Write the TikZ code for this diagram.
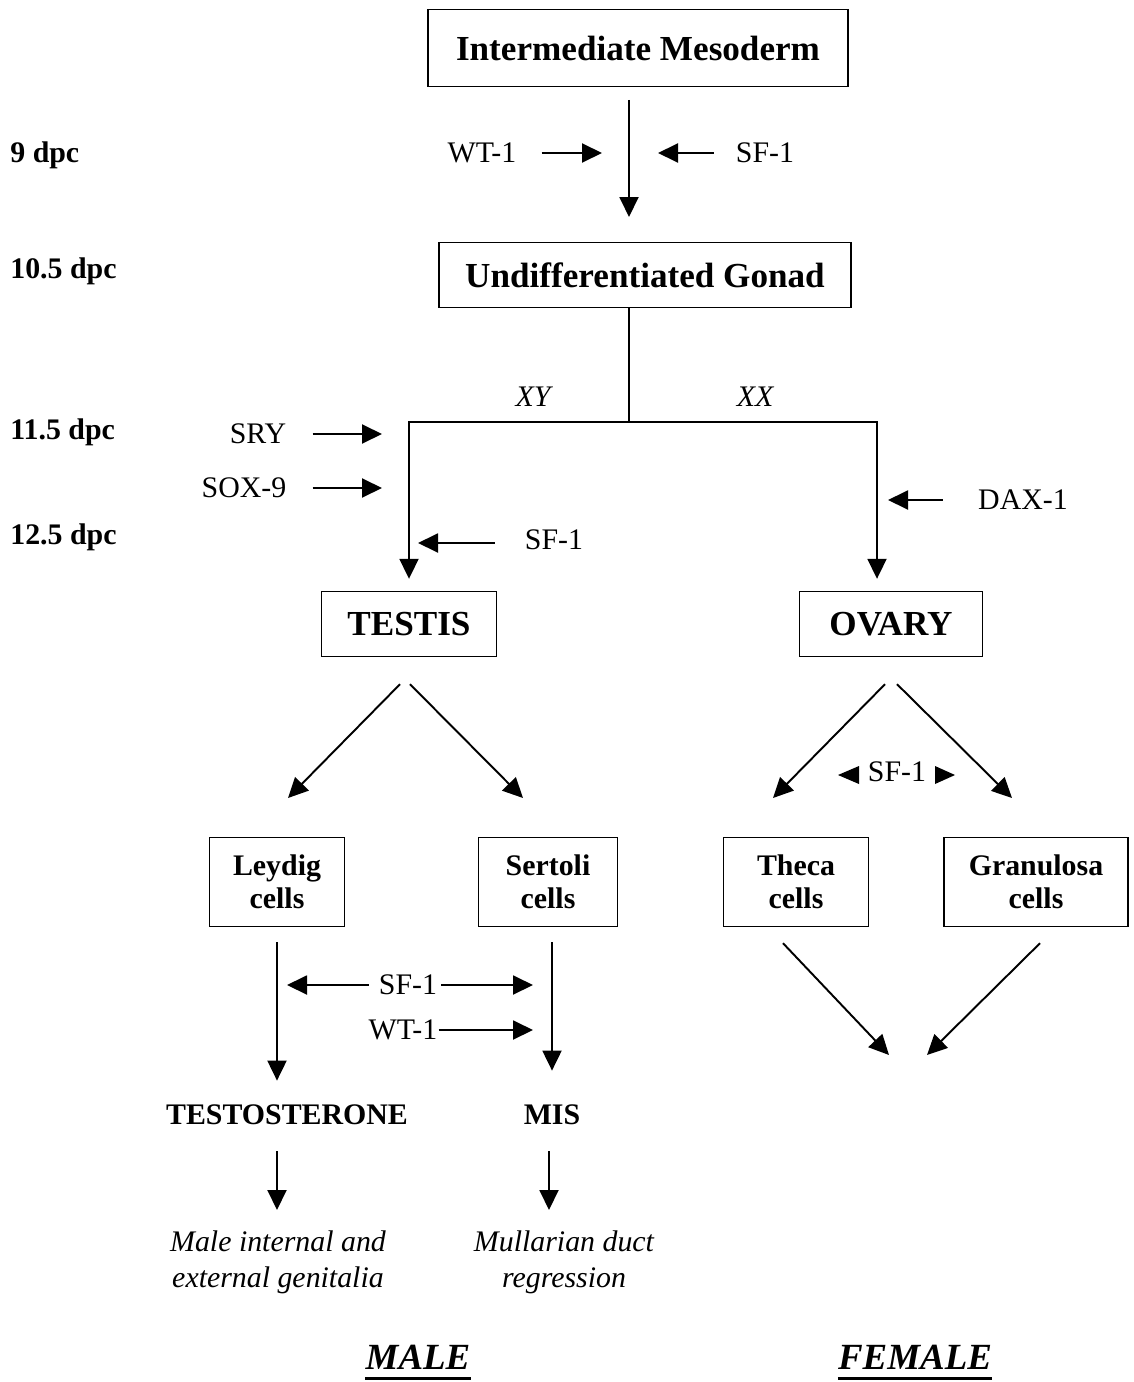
\documentclass[tikz,border=0pt]{standalone}
\usepackage{fontspec}
\setmainfont{Liberation Serif}
\usetikzlibrary{positioning}
\usetikzlibrary{arrows.meta}
\tikzset{
  arr/.style={line width=1.1pt, -{Triangle[length=0.4cm,width=0.38cm]}},
  stage/.style={draw, line width=0.8pt, font=\fontsize{20}{24}\selectfont\bfseries, minimum height=1.3cm},
  cellbox/.style={draw, line width=0.8pt, align=center, font=\fontsize{17}{19}\selectfont\bfseries, minimum height=1.78cm},
  factor/.style={inner sep=0pt, font=\fontsize{17}{20}\selectfont},
  dpc/.style={anchor=west, inner sep=0pt, font=\fontsize{17}{20}\selectfont\bfseries},
  result/.style={inner sep=0pt, font=\fontsize{17}{20}\selectfont\bfseries},
  effect/.style={inner sep=0pt, align=center, font=\fontsize{17}{20.4}\selectfont\itshape},
  sexlabel/.style={inner sep=0pt, anchor=base, font=\fontsize{21}{24}\selectfont\bfseries\itshape}
}

\begin{document}
\begin{tikzpicture}[x=0.02cm, y=-0.02cm]
\useasboundingbox (0,0) rectangle (1133,1382);

% ---------------- Time scale ----------------
\node[dpc] (d9)   at (10,155) {9 dpc};
\node[dpc] (d105) at (10,271) {10.5 dpc};
\node[dpc] (d115) at (10,432) {11.5 dpc};
\node[dpc] (d125) at (10,537) {12.5 dpc};

% ---------------- Mesoderm to gonad ----------------
\node[stage, minimum width=8.4cm, minimum height=1.54cm] (meso) at (638,48) {Intermediate Mesoderm};
\node[stage, minimum width=8.24cm] (gonad) at (645,275) {Undifferentiated Gonad};

\coordinate (m1) at (629,100);
\coordinate (m2) at (629,217);
\draw[arr] (m1) -- (m2);

\node[factor] (wt1a) at (482,153) {WT-1};
\node[factor] (sf1a) at (765,153) {SF-1};
\coordinate (wt1tip) at (602,153);
\coordinate (sf1tip) at (658,153);
\draw[arr, shorten <=0.5cm] (wt1a.east) -- (wt1tip);
\draw[arr, shorten <=0.44cm] (sf1a.west) -- (sf1tip);

% ---------------- Split XY / XX ----------------
\node[stage, minimum width=3.5cm]  (testis) at (409,624) {TESTIS};
\node[stage, minimum width=3.66cm] (ovary)  at (891,624) {OVARY};

\coordinate (split) at (629,422);
\coordinate (xyc) at (409,422);
\coordinate (xxc) at (877,422);
\draw[line width=1.1pt] (gonad.south -| split) -- (split);
\draw[arr, shorten >=0.24cm] (split) -- (xyc) -- (testis.north);
\draw[arr, shorten >=0.24cm] (split) -- (xxc) -- (xxc |- ovary.north);

\node[factor, font=\fontsize{17}{20}\selectfont\itshape] (xy) at (533,397) {XY};
\node[factor, font=\fontsize{17}{20}\selectfont\itshape] (xx) at (755,397) {XX};

% factors on the branches
\node[factor] (sry)  at (258,434) {SRY};
\node[factor] (sox9) at (244,488) {SOX-9};
\node[factor] (sf1b) at (554,540) {SF-1};
\node[factor] (dax1) at (1023,500) {DAX-1};
\coordinate (srytip) at (382,434);
\coordinate (soxtip) at (382,488);
\coordinate (sf1btip) at (418,543);
\coordinate (daxtip) at (888,500);
\draw[arr, shorten <=0.52cm] (sry.east) -- (srytip);
\draw[arr, shorten <=0.52cm] (sox9.east) -- (soxtip);
\draw[arr, shorten <=0.6cm] (sf1b.west |- sf1btip) -- (sf1btip);
\draw[arr, shorten <=0.7cm] (dax1.west) -- (daxtip);

% ---------------- Cell types ----------------
\node[cellbox, minimum width=2.7cm]  (leydig)    at (277,882)  {Leydig\\cells};
\node[cellbox, minimum width=2.78cm] (sertoli)   at (548,882)  {Sertoli\\cells};
\node[cellbox, minimum width=2.9cm]  (theca)     at (796,882)  {Theca\\cells};
\node[cellbox, minimum width=3.68cm] (granulosa) at (1036,882) {Granulosa\\cells};

\coordinate (ltip) at (288,798);
\coordinate (stip) at (523,798);
\coordinate (ttip) at (773,798);
\coordinate (gtip) at (1012,798);
\draw[arr] ([xshift=-0.18cm,yshift=-0.54cm]testis.south) -- (ltip);
\draw[arr] ([xshift=0.02cm,yshift=-0.54cm]testis.south) -- (stip);
\draw[arr] ([xshift=-0.12cm,yshift=-0.54cm]ovary.south) -- (ttip);
\draw[arr] ([xshift=0.12cm,yshift=-0.54cm]ovary.south) -- (gtip);

% SF-1 between the ovary arrows
\node[factor] (sf1o) at (897,772) {SF-1};
\fill (838,775) -- (859,766) -- (859,784) -- cycle;
\fill (955,775) -- (935,766) -- (935,784) -- cycle;

% ---------------- Male products ----------------
\node[result] (testo) at (287,1115) {TESTOSTERONE};
\node[result] (mis)   at (552,1115) {MIS};

\draw[arr, shorten <=0.3cm, shorten >=0.48cm] (leydig.south) -- (leydig.south |- testo.north);
\draw[arr, shorten <=0.3cm, shorten >=0.68cm] (sertoli.south -| mis) -- (mis.north);

\node[factor] (sf1c) at (408,985) {SF-1};
\node[factor] (wt1c) at (403,1030) {WT-1};
\coordinate (sfl) at (287,985);
\coordinate (sfr) at (533,985);
\coordinate (wtr) at (533,1030);
\draw[arr, shorten <=0.2cm] (sf1c.west) -- (sfl);
\draw[arr, shorten <=0.08cm] (sf1c.east) -- (sfr);
\draw[arr, shorten <=0.02cm] (wt1c.east) -- (wtr);

\node[effect] (genit) at (278,1262) {Male internal and\\external genitalia};
\node[effect] (regr)  at (564,1262) {Mullarian duct\\regression};
\coordinate (gentip) at (277,1210);
\coordinate (regtip) at (549,1210);
\draw[arr, shorten <=0.52cm] (testo.south -| gentip) -- (gentip);
\draw[arr, shorten <=0.52cm] (mis.south -| regtip) -- (regtip);

% ---------------- Female products ----------------
\coordinate (fl) at (889,1055);
\coordinate (fr) at (927,1055);
\draw[arr] ([xshift=-0.26cm,yshift=-0.32cm]theca.south) -- (fl);
\draw[arr] ([xshift=0.08cm,yshift=-0.32cm]granulosa.south) -- (fr);

% ---------------- Labels ----------------
\node[sexlabel] (male)   at (418,1369) {MALE};
\node[sexlabel] (female) at (915,1369) {FEMALE};
\draw[line width=1.7pt] ([yshift=-0.18cm]male.base west) -- ([yshift=-0.18cm]male.base east);
\draw[line width=1.7pt] ([yshift=-0.18cm]female.base west) -- ([yshift=-0.18cm]female.base east);

\end{tikzpicture}
\end{document}
